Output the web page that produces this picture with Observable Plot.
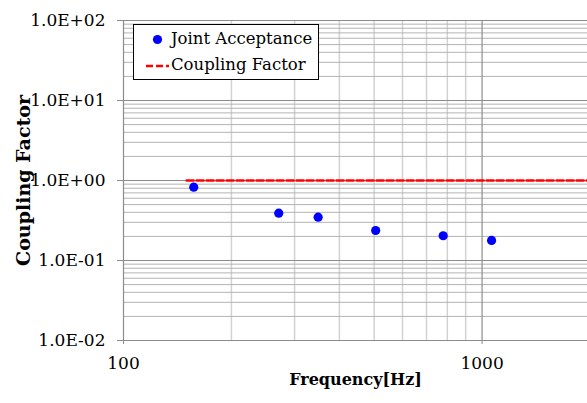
<!DOCTYPE html>
<html>
<head>
<meta charset="utf-8">
<script src="https://cdn.jsdelivr.net/npm/d3@7"></script>
<script src="https://cdn.jsdelivr.net/npm/@observablehq/plot@0.6"></script>
<style>
  body { margin: 0; background: white; }
  #wrap { position: relative; width: 587px; height: 403px; font-family: "DejaVu Serif", serif; }
  #legend { position: absolute; left: 133px; top: 24px; width: 184px; height: 54px; border: 1px solid #000; background: #fff; }
  #legend .row { position: absolute; left: 0; height: 24px; font-size: 16.5px; line-height: 24px; white-space: nowrap; font-family: "DejaVu Serif", serif; }
  #legend svg { position: absolute; left: 0; top: 0; }
</style>
</head>
<body>
<div id="wrap"></div>
<script>
// Data
const freqJA = [157, 271, 349, 505, 779, 1063];
const jointAcceptance = [0.825, 0.39, 0.348, 0.237, 0.204, 0.178];
const freqCF = [150, 1968];
const couplingFactor = [1, 1];
const xTicks = [100, 1000];
const yTicks = [0.01, 0.1, 1, 10, 100];
const xMinor = [200, 300, 400, 500, 600, 700, 800, 900];
const yMinor = [0.02, 0.03, 0.04, 0.05, 0.06, 0.07, 0.08, 0.09,
                0.2, 0.3, 0.4, 0.5, 0.6, 0.7, 0.8, 0.9,
                2, 3, 4, 5, 6, 7, 8, 9,
                20, 30, 40, 50, 60, 70, 80, 90];
const seriesNames = ["Joint Acceptance", "Coupling Factor"];
const xLabel = "Frequency[Hz]";
const yLabel = "Coupling Factor";

const jaData = freqJA.map((f, i) => ({f, v: jointAcceptance[i]}));
const cfData = freqCF.map((f, i) => ({f, v: couplingFactor[i]}));

const fmt = d => {
  const [m, e] = d.toExponential(1).split("e");
  const n = +e;
  return m + "E" + (n < 0 ? "-" : "+") + String(Math.abs(n)).padStart(2, "0");
};

const serif = "\"DejaVu Serif\", serif";

const chart = Plot.plot({
  width: 587,
  height: 403,
  marginLeft: 123,
  marginTop: 20,
  marginBottom: 63,
  marginRight: 0,
  style: {fontFamily: serif, fontSize: "17px", background: "white", color: "black"},
  x: {type: "log", domain: [100, 1968]},
  y: {type: "log", domain: [0.01, 100]},
  marks: [
    Plot.ruleX(xMinor, {stroke: "#d2d2d2", strokeWidth: 1.5}),
    Plot.ruleY(yMinor, {stroke: "#b4b4b4", strokeWidth: 1}),
    Plot.ruleY(yTicks, {stroke: "#8c8c8c", strokeWidth: 1.2}),
    Plot.ruleX(xTicks, {stroke: "#8c8c8c", strokeWidth: 1.2}),
    Plot.axisY(yTicks, {tickSize: 6, tickPadding: 12, tickFormat: fmt, stroke: "#8c8c8c", fill: "black", label: null, fontFamily: serif}),
    Plot.axisX(xTicks, {tickSize: 4, tickPadding: 12, tickFormat: d => String(d), stroke: "#8c8c8c", fill: "black", label: null, fontFamily: serif}),
    Plot.text([xLabel], {frameAnchor: "bottom", dy: 44, fontWeight: "bold", fontSize: 16, fill: "black", fontFamily: serif}),
    Plot.text([yLabel], {frameAnchor: "left", textAnchor: "middle", dx: -100, rotate: -90, fontWeight: "bold", fontSize: 19, fill: "black", fontFamily: serif}),
    Plot.line(cfData, {x: "f", y: "v", stroke: "#ff0000", strokeWidth: 2.5, strokeDasharray: "7,3"}),
    Plot.dot(jaData, {x: "f", y: "v", r: 4.6, fill: "#0000ff", stroke: "none"})
  ]
});

const wrap = document.getElementById("wrap");
wrap.appendChild(chart);

// Legend overlay
const legend = document.createElement("div");
legend.id = "legend";
legend.innerHTML = `
  <svg width="184" height="54">
    <circle cx="23.5" cy="14.5" r="4.6" fill="#0000ff"></circle>
    <line x1="12" y1="41" x2="35" y2="41" stroke="#ff0000" stroke-width="2.5" stroke-dasharray="7,3"></line>
  </svg>
  <div class="row" style="left:37px; top:2px;">${seriesNames[0]}</div>
  <div class="row" style="left:37px; top:28px;">${seriesNames[1]}</div>`;
wrap.appendChild(legend);
</script>
</body>
</html>
